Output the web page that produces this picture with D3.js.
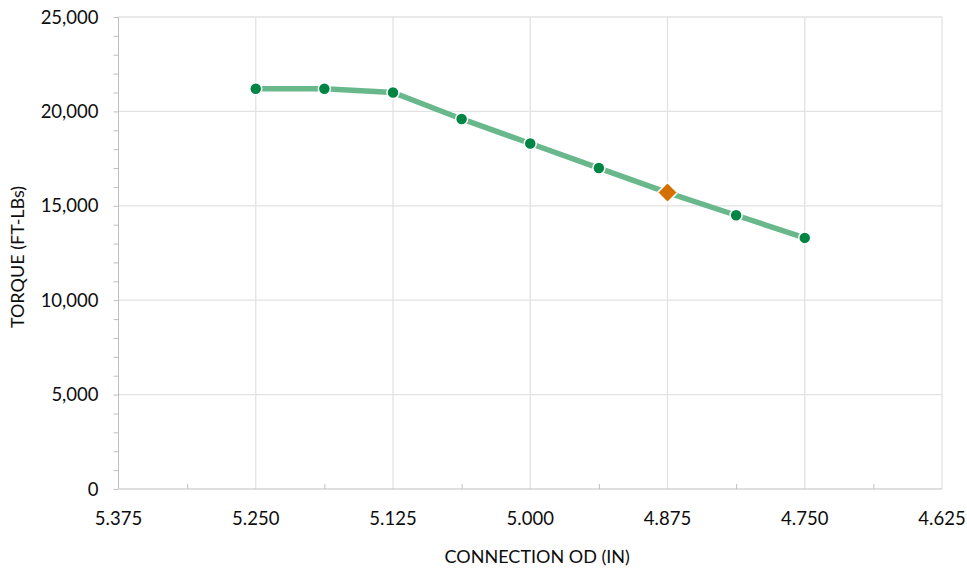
<!DOCTYPE html>
<html>
<head>
<meta charset="utf-8">
<script src="https://cdn.jsdelivr.net/npm/d3@7"></script>
<style>
  body { margin: 0; background: #fff; }
  text { font-family: Lato, "Open Sans", sans-serif; fill: #0d0d0d; }
</style>
</head>
<body>
<div id="chart"></div>
<script>
// data
const connectionOD = [5.25, 5.1875, 5.125, 5.0625, 5.0, 4.9375, 4.875, 4.8125, 4.75]
const torque = [21200, 21200, 21000, 19600, 18300, 17000, 15700, 14500, 13300]
const highlightOD = 4.875
const xTicks = [5.375, 5.25, 5.125, 5.0, 4.875, 4.75, 4.625]
const xMinor = [5.3125, 5.1875, 5.0625, 4.9375, 4.8125, 4.6875]
const yTicks = [0, 5000, 10000, 15000, 20000, 25000]

const W = 967, H = 568
const margin = ({ top: 17, right: 25, bottom: 79, left: 118.5 })
const width = W - margin.left - margin.right
const height = H - margin.top - margin.bottom

const svg = d3.select("#chart").append("svg")
    .attr("width", W)
    .attr("height", H)
  .append("g")
    .attr("transform", "translate(" + margin.left + "," + margin.top + ")")

// reversed x axis
const x = d3.scaleLinear().domain([5.375, 4.625]).range([0, width])
const y = d3.scaleLinear().domain([0, 25000]).range([height, 0])

// gridlines
svg.append("g").selectAll("line")
  .data(yTicks.slice(1))
  .enter().append("line")
    .attr("x1", 0).attr("x2", width)
    .attr("y1", d => y(d)).attr("y2", d => y(d))
    .attr("stroke", "#e2e2e2").attr("stroke-width", 1.3)

svg.append("g").selectAll("line")
  .data(xTicks.slice(1))
  .enter().append("line")
    .attr("x1", d => x(d)).attr("x2", d => x(d))
    .attr("y1", 0).attr("y2", height)
    .attr("stroke", "#e2e2e2").attr("stroke-width", 1.3)

// y axis with minor ticks
const yAxis = svg.append("g")
  .call(d3.axisLeft(y).tickValues(d3.range(0, 25001, 1000)).tickSize(5).tickFormat(""))
yAxis.select(".domain").attr("stroke", "#bfbfbf").attr("d", "M0," + height + "V0")
yAxis.selectAll(".tick line").attr("stroke", "#bfbfbf")

svg.append("g").selectAll("text")
  .data(yTicks)
  .enter().append("text")
    .attr("x", -20)
    .attr("y", d => y(d))
    .attr("dy", "0.36em")
    .attr("text-anchor", "end")
    .style("font-size", "18.5px")
    .text(d => d3.format(",")(d))

// x axis: minor ticks point up into the plot
const xAxis = svg.append("g")
  .attr("transform", "translate(0," + height + ")")
  .call(d3.axisBottom(x).tickValues(xMinor).tickSize(-5).tickFormat(""))
xAxis.select(".domain").attr("stroke", "#bfbfbf").attr("d", "M0,0H" + width)
xAxis.selectAll(".tick line").attr("stroke", "#bfbfbf")

svg.append("g").selectAll("text")
  .data(xTicks)
  .enter().append("text")
    .attr("x", d => x(d))
    .attr("y", height + 36)
    .attr("text-anchor", "middle")
    .style("font-size", "18.5px")
    .text(d => d3.format(".3f")(d))

// axis titles
svg.append("text")
  .attr("x", width / 2 + 7)
  .attr("y", height + 74)
  .attr("text-anchor", "middle")
  .style("font-size", "18px")
  .text("CONNECTION OD (IN)")

svg.append("text")
  .attr("transform", "rotate(-90)")
  .attr("x", -height / 2 - 4)
  .attr("y", -95)
  .attr("text-anchor", "middle")
  .style("font-size", "18px")
  .text("TORQUE (FT-LBs)")

// series
const points = connectionOD.map((d, i) => ({ od: d, t: torque[i] }))

svg.append("path")
  .datum(points)
  .attr("fill", "none")
  .attr("stroke", "#68b88b")
  .attr("stroke-width", 5.5)
  .attr("d", d3.line().x(d => x(d.od)).y(d => y(d.t)))

svg.append("g").selectAll("circle")
  .data(points.filter(d => d.od !== highlightOD))
  .enter().append("circle")
    .attr("cx", d => x(d.od))
    .attr("cy", d => y(d.t))
    .attr("r", 6)
    .attr("fill", "#008545")
    .attr("stroke", "#fff")
    .attr("stroke-width", 1.5)

svg.append("g").selectAll("path")
  .data(points.filter(d => d.od === highlightOD))
  .enter().append("path")
    .attr("transform", d => "translate(" + x(d.od) + "," + y(d.t) + ")")
    .attr("d", "M0,-10L10,0L0,10L-10,0Z")
    .attr("fill", "#d46f00")
    .attr("stroke", "#fff")
    .attr("stroke-width", 1.5)
</script>
</body>
</html>
